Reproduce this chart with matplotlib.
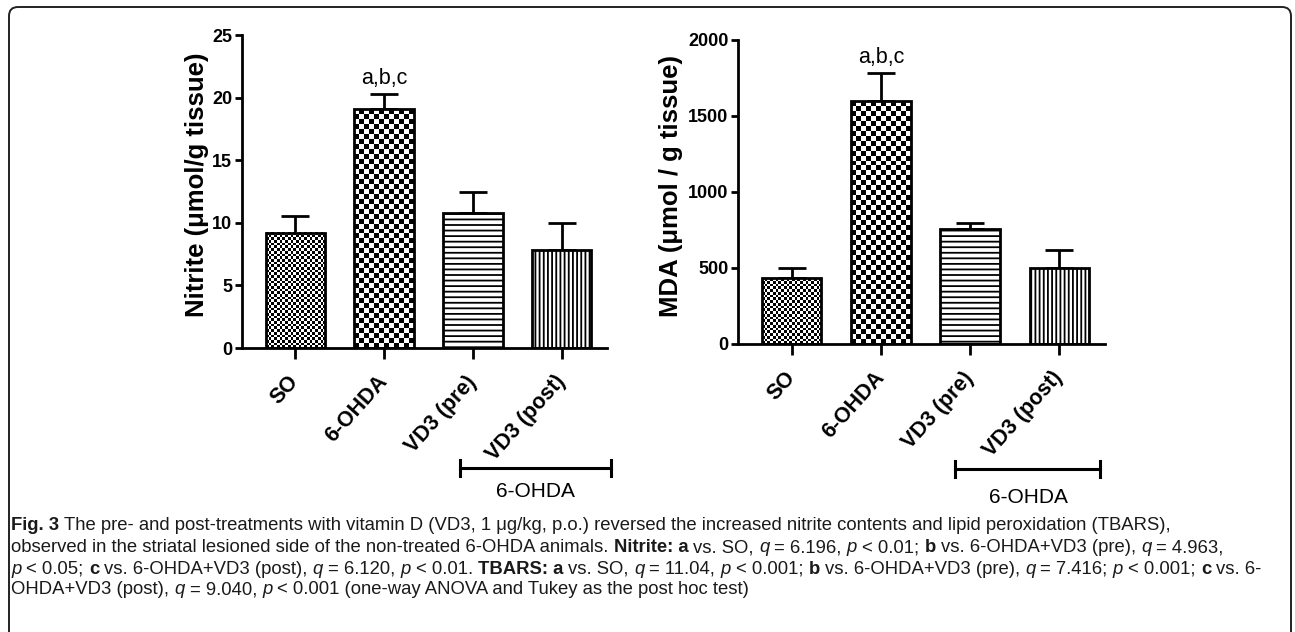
import numpy as np
import matplotlib
matplotlib.use("Agg")
import matplotlib.pyplot as plt
from matplotlib.patches import FancyBboxPatch
from matplotlib.transforms import IdentityTransform, blended_transform_factory

groups = ["SO", "6-OHDA", "VD3 (pre)", "VD3 (post)"]
nitrite_mean = [9.2, 19.05, 10.8, 7.8]
nitrite_sem = [1.35, 1.25, 1.7, 2.2]
mda_mean = [432, 1598, 754, 498]
mda_sem = [66, 186, 40, 120]
fills = ["fine", "coarse", "---", "||||"]
sig_label = "a,b,c"
sig_index = 1
bracket_label = "6-OHDA"

caption = [
    [("Fig. 3", "b"), (" The pre- and post-treatments with vitamin D (VD3, 1 μg/kg, p.o.) reversed the increased nitrite contents and lipid peroxidation (TBARS),", "n")],
    [("observed in the striatal lesioned side of the non-treated 6-OHDA animals. ", "n"), ("Nitrite: a", "b"), (" vs. SO, ", "n"),
     ("q", "i"), (" = 6.196, ", "n"), ("p", "i"), (" < 0.01; ", "n"), ("b", "b"), (" vs. 6-OHDA+VD3 (pre), ", "n"),
     ("q", "i"), (" = 4.963,", "n")],
    [("p", "i"), (" < 0.05; ", "n"), ("c", "b"), (" vs. 6-OHDA+VD3 (post), ", "n"), ("q", "i"), (" = 6.120, ", "n"),
     ("p", "i"), (" < 0.01. ", "n"), ("TBARS: a", "b"), (" vs. SO, ", "n"), ("q", "i"), (" = 11.04, ", "n"),
     ("p", "i"), (" < 0.001; ", "n"), ("b", "b"), (" vs. 6-OHDA+VD3 (pre), ", "n"), ("q", "i"), (" = 7.416; ", "n"),
     ("p", "i"), (" < 0.001; ", "n"), ("c", "b"), (" vs. 6-", "n")],
    [("OHDA+VD3 (post), ", "n"), ("q", "i"), (" = 9.040, ", "n"), ("p", "i"),
     (" < 0.001 (one-way ANOVA and Tukey as the post hoc test)", "n")],
]

plt.rcParams["font.family"] = ["Liberation Sans", "DejaVu Sans"]
plt.rcParams["hatch.linewidth"] = 1.3

W, H = 1295, 632
fig = plt.figure(figsize=(W / 100, H / 100), dpi=100)


def checker(ax, bar, cell_px):
    x0, y0 = bar.get_x(), bar.get_y()
    w, h = bar.get_width(), bar.get_height()
    p0 = ax.transData.transform((x0, y0))
    p1 = ax.transData.transform((x0 + w, y0 + h))
    nx = max(1, int(round((p1[0] - p0[0]) / cell_px)))
    ny = max(1, int(round((p1[1] - p0[1]) / cell_px)))
    grid = np.add.outer(np.arange(ny), np.arange(nx)) % 2
    ax.imshow(grid, extent=(x0, x0 + w, y0, y0 + h), cmap="gray", interpolation="nearest",
              aspect="auto", origin="lower", zorder=1.5, clip_path=bar)


def panel(rect, means, sems, ymax, yticks, ylabel, label_x, br_x, br_y, txt_x, txt_y):
    ax = fig.add_axes(rect)
    x = np.arange(len(groups))
    ax.set_xlim(-0.6, 3.51)
    ax.set_ylim(0, ymax)
    bars = ax.bar(x, means, width=0.67, color="white", edgecolor="black", linewidth=2.0, zorder=2)
    for b, f in zip(bars, fills):
        if f == "fine":
            b.set_facecolor("none")
            checker(ax, b, 2.7)
        elif f == "coarse":
            b.set_facecolor("none")
            checker(ax, b, 5.0)
        else:
            b.set_hatch(f)
    ax.errorbar(x, means, yerr=[np.zeros(len(means)), sems], fmt="none", ecolor="black",
                elinewidth=2.0, capsize=10, capthick=2.0, zorder=1)
    ax.set_xlim(-0.6, 3.51)
    ax.set_ylim(0, ymax)
    ax.text(x[sig_index], means[sig_index] + sems[sig_index] + ymax * 0.015, sig_label,
            ha="center", va="bottom", fontsize=15.5)
    for s in ["top", "right"]:
        ax.spines[s].set_visible(False)
    for s in ["left", "bottom"]:
        ax.spines[s].set_linewidth(2.0)
    ax.set_yticks(yticks)
    ax.set_yticklabels([str(t) for t in yticks], fontsize=13, fontweight="bold")
    ax.tick_params(axis="y", direction="out", length=5, width=2.0, pad=2)
    ax.tick_params(axis="x", direction="out", length=8, width=2.0, pad=14)
    ax.set_xticks(x)
    ax.set_xticklabels(groups, rotation=48, ha="right", va="center", rotation_mode="anchor",
                       fontsize=15.5, fontweight="bold")
    ax.set_ylabel(ylabel, fontsize=18.5, fontweight="bold")
    ax.yaxis.set_label_coords(label_x, 0.52)
    tr = blended_transform_factory(ax.transData, ax.transAxes)
    ax.plot(br_x, [br_y, br_y], color="black", lw=2.2, transform=tr, clip_on=False)
    for bx in br_x:
        ax.plot([bx, bx], [br_y - 0.025, br_y + 0.025], color="black", lw=2.2, transform=tr, clip_on=False)
    ax.text(txt_x, txt_y, bracket_label, transform=tr, ha="center", va="center", fontsize=15)
    return ax


panel([242 / W, 1 - 348 / H, 365 / W, 313 / H], nitrite_mean, nitrite_sem, 25, [0, 5, 10, 15, 20, 25],
      "Nitrite (μmol/g tissue)", -0.09, [1.85, 3.55], -0.383, 2.70, -0.46)
panel([738 / W, 1 - 344 / H, 367 / W, 304 / H], mda_mean, mda_sem, 2000, [0, 500, 1000, 1500, 2000],
      "MDA (μmol / g tissue)", -0.15, [1.83, 3.45], -0.411, 2.65, -0.505)

# outer rounded frame
frame = FancyBboxPatch((9, -30), 1282, 632 - 7 + 30, boxstyle="round,pad=0,rounding_size=9",
                       transform=IdentityTransform(), fill=False, edgecolor="#222222", linewidth=1.4)
fig.patches.append(frame)

# caption with mixed styles
renderer = fig.canvas.get_renderer()
cap_size = 13.3
styles = {"n": dict(), "b": dict(fontweight="bold"), "i": dict(fontstyle="italic")}


def width_px(s, st):
    t = fig.text(0, 0, s, fontsize=cap_size, **styles[st])
    w = t.get_window_extent(renderer).width
    t.remove()
    return w


space_w = {k: width_px("a a", k) - width_px("aa", k) for k in styles}
line_y = [526, 548, 569, 590]
for parts, yy in zip(caption, line_y):
    xp = 11
    for s, st in parts:
        core = s.strip(" ")
        lead = len(s) - len(s.lstrip(" "))
        trail = len(s) - len(s.rstrip(" "))
        xp += lead * space_w[st]
        if core:
            fig.text(xp / W, 1 - yy / H, core, fontsize=cap_size, ha="left", va="center",
                     color="#1a1a1a", **styles[st])
            xp += width_px(core, st)
        xp += trail * space_w[st]

fig.savefig("out.png", dpi=100)
